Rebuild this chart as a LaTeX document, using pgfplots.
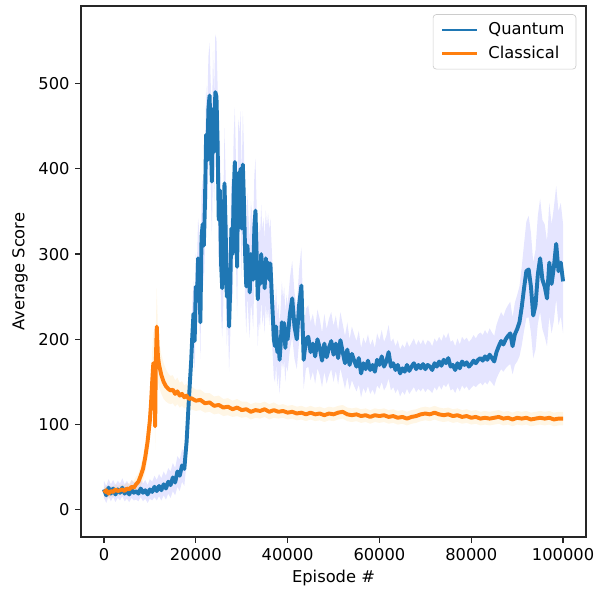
\documentclass[border=0pt]{standalone}
\usepackage{fontspec}
\setmainfont{DejaVu Sans}
\usepackage{pgfplots}
\usepackage{pgfplotstable}
\pgfplotsset{compat=1.18}
\usepgfplotslibrary{fillbetween}

\definecolor{mplblue}{RGB}{31,119,180}
\definecolor{mplorange}{RGB}{255,127,14}
\definecolor{bandorange}{RGB}{255,165,0}

% Quantum: episode, mean, lower, upper
\pgfplotstableread{
x m lo hi
0 24 14 34
500 17 8 28
1000 26 16 36
1500 19 10 30
2000 25 15 35
2500 18 9 29
3000 24 14 34
3500 20 11 31
4000 26 16 37
4500 19 10 30
5000 23 13 34
5500 18 9 29
6000 24 14 35
6500 20 11 32
7000 22 12 33
7500 19 10 30
8000 25 15 37
8500 20 10 31
9000 23 13 35
9500 18 8 29
10000 24 13 36
10500 21 11 33
11000 27 15 40
11500 22 11 35
12000 28 16 42
12500 23 11 37
13000 30 17 45
13500 25 12 40
14000 33 19 49
14500 29 14 45
15000 38 22 55
15500 32 17 49
16000 45 27 63
16500 40 22 59
17000 52 33 71
17500 48 28 69
18000 80 56 104
18500 130 102 158
19000 175 142 208
19250 205 172 242
19500 230 192 268
19750 198 162 238
20000 262 222 302
20250 245 202 288
20500 295 252 342
20750 280 237 328
21000 220 177 268
21250 320 272 372
21500 335 287 388
21750 310 262 362
22000 360 307 418
22250 440 382 498
22500 410 352 472
22750 470 407 532
23000 486 422 548
23250 440 377 502
23500 385 322 448
23750 470 402 538
24000 420 357 488
24250 490 422 558
24500 485 417 552
24750 430 367 498
25000 340 282 402
25250 375 312 438
25500 290 232 348
25750 260 202 322
26000 300 242 362
26250 383 322 448
26500 330 272 392
26750 250 192 312
27000 280 222 342
27250 215 162 272
27500 260 202 322
27750 330 272 392
28000 300 242 362
28250 370 307 438
28500 408 347 472
28750 350 292 412
29000 285 227 348
29250 395 332 458
29500 380 322 442
29750 400 337 468
30000 330 272 392
30250 405 347 468
30500 360 302 422
30750 300 242 358
31000 262 207 322
31250 310 252 372
31500 280 222 342
31750 255 202 312
32000 300 242 362
32250 290 232 348
32500 270 212 332
32750 330 272 392
33000 351 292 412
33250 300 242 358
33500 247 192 302
33750 280 222 338
34000 265 212 322
34250 300 247 358
34500 270 217 328
34750 285 232 342
35000 260 207 318
35250 295 242 352
35500 275 222 332
35750 290 237 348
36000 270 217 328
36250 289 237 342
36500 258 207 312
36750 230 182 282
37000 200 155 248
37250 192 150 238
37500 215 170 262
37750 185 145 228
38000 200 160 242
38250 176 136 218
38500 195 155 238
38750 220 175 268
39000 205 165 248
39250 219 175 262
39500 190 150 232
39750 210 170 252
40000 200 162 240
40500 230 188 272
41000 248 203 292
41500 215 177 255
42000 200 165 238
42500 240 197 282
43000 263 218 308
43500 176 142 212
44000 200 166 236
44500 203 168 240
45000 185 152 220
45500 195 162 230
46000 180 148 214
46500 200 166 235
47000 190 158 224
47500 175 144 208
48000 195 162 230
48500 179 148 212
49000 190 158 224
49500 198 165 232
50000 182 150 216
50500 195 163 228
51000 178 147 210
51500 199 166 232
52000 185 154 218
52500 172 142 204
53000 188 156 220
53500 170 141 200
54000 183 152 215
54500 175 145 206
55000 168 139 198
55500 178 147 210
56000 160 132 190
56500 172 143 202
57000 165 137 195
57500 175 145 206
58000 164 136 193
58500 170 141 200
59000 162 135 190
59500 176 146 207
60000 170 142 199
60500 180 150 211
61000 168 140 197
61500 174 145 204
62000 185 154 217
62500 168 140 197
63000 172 144 201
63500 164 137 192
64000 170 142 199
64500 160 133 188
65000 166 139 194
65500 162 135 190
66000 170 142 198
66500 163 136 191
67000 168 140 196
67500 172 144 201
68000 165 138 193
68500 170 142 199
69000 166 139 194
69500 171 143 200
70000 165 138 193
70500 170 142 199
71000 168 140 197
71500 164 137 192
72000 172 144 201
72500 168 140 197
73000 174 146 203
73500 169 141 198
74000 176 147 206
74500 172 144 201
75000 178 149 208
75500 168 140 197
76000 170 142 199
76500 164 137 192
77000 172 144 201
77500 166 139 194
78000 174 146 203
78500 170 142 199
79000 173 145 202
79500 168 140 197
80000 171 143 200
80500 175 146 205
81000 172 144 201
81500 176 147 206
82000 178 149 208
82500 175 146 205
83000 180 150 211
83500 176 147 206
84000 182 152 213
84500 178 149 208
85000 174 145 204
85500 185 154 217
86000 192 160 225
86500 198 165 232
87000 194 162 227
87500 200 166 235
88000 204 169 240
88500 207 171 244
89000 192 159 226
89500 206 170 243
90000 212 174 252
90500 220 180 262
91000 238 193 285
91500 260 210 312
92000 280 225 338
92500 282 226 345
93000 262 208 325
93500 228 178 290
94000 240 188 305
94500 276 218 345
95000 295 232 365
95500 270 212 340
96000 262 203 335
96500 248 192 315
97000 290 227 360
97500 265 207 335
98000 285 222 355
98500 312 247 380
99000 280 217 350
99500 290 227 360
100000 268 207 335
}\qdata

% Classical: episode, mean, lower, upper
\pgfplotstableread{
x m lo hi
0 20 14 26
500 23 17 29
1000 19 13 25
1500 22 16 28
2000 21 15 27
2500 24 18 30
3000 22 16 28
3500 23 17 29
4000 24 18 30
4500 22 16 29
5000 25 18 32
5500 24 17 31
6000 27 19 35
6500 26 18 34
7000 30 21 39
7500 33 23 43
8000 40 28 52
8500 48 34 62
9000 62 45 80
9500 80 60 102
10000 105 80 132
10250 125 95 155
10500 150 115 185
10750 172 135 210
11000 160 125 200
11150 98 70 130
11300 175 140 215
11500 215 175 260
11750 180 150 212
12000 170 144 198
12500 158 136 182
13000 150 130 172
13500 145 127 165
14000 142 125 160
14500 140 124 157
15000 141 125 158
15500 136 121 152
16000 139 124 155
16500 134 120 149
17000 136 122 151
17500 132 119 146
18000 134 121 148
18500 130 117 144
19000 131 118 145
20000 128 116 141
21000 129 117 141
22000 125 114 137
23000 126 115 137
24000 122 112 133
25000 123 113 134
26000 120 110 130
27000 121 111 131
28000 118 109 128
29000 120 110 130
30000 117 108 127
31000 118 109 127
32000 115 106 124
33000 117 108 126
34000 116 107 125
35000 118 109 127
36000 115 106 124
37000 117 108 126
38000 115 107 123
39000 116 108 124
40000 114 106 122
41000 115 107 123
42000 113 105 121
43000 114 106 122
44000 112 104 120
45000 114 106 122
46000 112 104 120
47000 113 105 121
48000 111 103 119
49000 113 105 121
50000 112 104 120
51000 114 106 122
52000 115 107 123
53000 112 104 120
54000 111 103 119
55000 112 104 120
56000 110 102 118
57000 111 103 119
58000 109 101 117
59000 111 103 119
60000 110 102 118
61000 111 103 119
62000 109 101 117
63000 110 102 118
64000 108 100 116
65000 109 101 117
66000 107 99 115
67000 109 101 117
68000 110 102 118
69000 112 104 120
70000 113 105 121
71000 112 104 120
72000 114 106 122
73000 112 104 120
74000 111 103 119
75000 112 104 120
76000 110 102 118
77000 111 103 119
78000 109 101 117
79000 110 102 118
80000 108 100 116
81000 109 101 117
82000 107 99 115
83000 108 100 116
84000 107 99 115
85000 108 100 116
86000 109 101 117
87000 107 99 115
88000 108 100 116
89000 106 98 114
90000 108 100 116
91000 107 99 115
92000 108 100 116
93000 106 98 114
94000 107 99 115
95000 108 100 116
96000 107 99 115
97000 108 100 116
98000 106 98 114
99000 107 99 115
100000 107 99 115
}\cdata

\begin{document}
\begin{tikzpicture}
\begin{axis}[
    scale only axis,
    width=309.8pt,
    height=325.8pt,
    xmin=-5000, xmax=105000,
    ymin=-32, ymax=591,
    xtick={0,20000,40000,60000,80000,100000},
    xticklabels={0,20000,40000,60000,80000,100000},
    scaled x ticks=false,
    ytick={0,100,200,300,400,500},
    yticklabels={0,100,200,300,400,500},
    tick label style={font=\fontsize{10}{12}\selectfont},
    label style={font=\fontsize{10}{12}\selectfont},
    xlabel={Episode \#},
    ylabel={Average Score},
    xlabel style={at={(axis description cs:0.5,-0.0773)}, anchor=center},
    ylabel style={at={(axis description cs:-0.1207,0.5)}, anchor=center},
    tick align=outside,
    tick pos=left,
    major tick length=3.5pt,
    axis line style={line width=0.8pt, black!85},
    every tick/.style={black!85, line width=0.8pt},
    legend cell align=left,
    legend style={
        at={(1,1)}, anchor=north east,
        xshift=-6pt, yshift=-5pt,
        draw=black!20, rounded corners=2pt,
        font=\fontsize{10}{12}\selectfont,
        row sep=1.5pt,
        inner xsep=5pt, inner ysep=3pt,
    },
    legend image code/.code={\draw[#1, line width=1.5pt] (0pt,0pt) -- (21pt,0pt); \path (25pt,0pt);},
]

% Quantum band
\addplot[name path=qhi, draw=none, forget plot] table[x=x, y=hi]{\qdata};
\addplot[name path=qlo, draw=none, forget plot] table[x=x, y=lo]{\qdata};
\addplot[fill=blue, fill opacity=0.1, draw=none, forget plot] fill between[of=qhi and qlo];

% Classical band
\addplot[name path=chi, draw=none, forget plot] table[x=x, y=hi]{\cdata};
\addplot[name path=clo, draw=none, forget plot] table[x=x, y=lo]{\cdata};
\addplot[fill=bandorange, fill opacity=0.1, draw=none, forget plot] fill between[of=chi and clo];

\addplot[mplblue, line width=2.4pt, line join=round] table[x=x, y=m]{\qdata};
\addlegendentry{Quantum}
\addplot[mplorange, line width=2.4pt, line join=round] table[x=x, y=m]{\cdata};
\addlegendentry{Classical}

\end{axis}
% page size as in the reference: margins around the axis box
\pgfresetboundingbox
\path ([shift={(-49.7pt,-33.1pt)}]current axis.south west) rectangle ([shift={(5.5pt,3.7pt)}]current axis.north east);
\end{tikzpicture}
\end{document}
